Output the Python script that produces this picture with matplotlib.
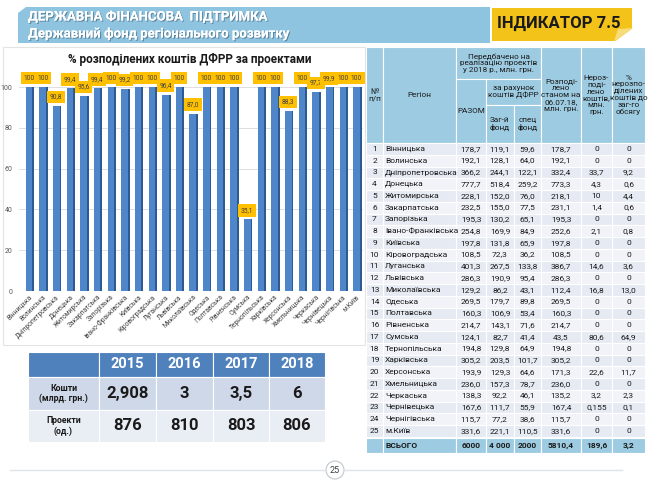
import matplotlib
matplotlib.use('Agg')
import matplotlib.pyplot as plt
import matplotlib.patheffects as pe
from matplotlib.patches import Rectangle, Polygon, Circle

plt.rcParams['font.family'] = ['Roboto', 'DejaVu Sans']

# data
regions = ['Вінницька', 'Волинська', 'Дніпропетровська', 'Донецька', 'Житомирська',
           'Закарпатська', 'Запорізька', 'Івано-Франківська', 'Київська', 'Кіровоградська',
           'Луганська', 'Львівська', 'Миколаївська', 'Одеська', 'Полтавська',
           'Рівненська', 'Сумська', 'Тернопільська', 'Харківська', 'Херсонська',
           'Хмельницька', 'Черкаська', 'Чернівецька', 'Чернігівська', 'м.Київ']
pct = [100, 100, 90.8, 99.4, 95.6, 99.4, 100, 99.2, 100, 100, 96.4, 100, 87.0,
       100, 100, 100, 35.1, 100, 100, 88.3, 100, 97.7, 99.9, 100, 100]

razom = ['178,7', '192,1', '366,2', '777,7', '228,1', '232,5', '195,3', '254,8', '197,8',
         '108,5', '401,3', '286,3', '129,2', '269,5', '160,3', '214,7', '124,1', '194,8',
         '305,2', '193,9', '236,0', '138,3', '167,6', '115,7', '331,6']
zag = ['119,1', '128,1', '244,1', '518,4', '152,0', '155,0', '130,2', '169,9', '131,8',
       '72,3', '267,5', '190,9', '86,2', '179,7', '106,9', '143,1', '82,7', '129,8',
       '203,5', '129,3', '157,3', '92,2', '111,7', '77,2', '221,1']
spec = ['59,6', '64,0', '122,1', '259,2', '76,0', '77,5', '65,1', '84,9', '65,9',
        '36,2', '133,8', '95,4', '43,1', '89,8', '53,4', '71,6', '41,4', '64,9',
        '101,7', '64,6', '78,7', '46,1', '55,9', '38,6', '110,5']
rozp = ['178,7', '192,1', '332,4', '773,3', '218,1', '231,1', '195,3', '252,6', '197,8',
        '108,5', '386,7', '286,3', '112,4', '269,5', '160,3', '214,7', '43,5', '194,8',
        '305,2', '171,3', '236,0', '135,2', '167,4', '115,7', '331,6']
nerozp = ['0', '0', '33,7', '4,3', '10', '1,4', '0', '2,1', '0', '0', '14,6', '0', '16,8',
          '0', '0', '0', '80,6', '0', '0', '22,6', '0', '3,2', '0,155', '0', '0']
nerozp_pct = ['0', '0', '9,2', '0,6', '4,4', '0,6', '0', '0,8', '0', '0', '3,6', '0', '13,0',
              '0', '0', '0', '64,9', '0', '0', '11,7', '0', '2,3', '0,1', '0', '0']
total_row = ['', 'ВСЬОГО', '6000', '4 000', '2000', '5810,4', '189,6', '3,2']

years = ['2015', '2016', '2017', '2018']
koshty = ['2,908', '3', '3,5', '6']
proekty = ['876', '810', '803', '806']

fig = plt.figure(figsize=(6.5, 4.88), dpi=100)
bg = fig.add_axes([0, 0, 1, 1])
bg.set_xlim(0, 650)
bg.set_ylim(488, 0)
bg.axis('off')


def cell(x0, x1, y0, y1, fc, txt='', ha='center', **kw):
    bg.add_patch(Rectangle((x0, y0), x1 - x0, y1 - y0, facecolor=fc, edgecolor='white', lw=0.8))
    if txt:
        tx = (x0 + x1) / 2 if ha == 'center' else x0 + 2
        bg.text(tx, (y0 + y1) / 2, txt, ha=ha, va='center', **kw)


# header band
bg.add_patch(Rectangle((18, 7), 472, 36, facecolor='#8FC4E0', edgecolor='none'))
bg.add_patch(Polygon([(18, 7), (26, 7), (18, 13)], facecolor='white', edgecolor='none'))
shadow = [pe.withSimplePatchShadow(offset=(0.8, -0.8), shadow_rgbFace='#3A5A70', alpha=0.6), pe.Normal()]
bg.text(28, 17, 'ДЕРЖАВНА ФІНАНСОВА  ПІДТРИМКА', color='white', fontsize=9.5, fontweight='bold',
        va='center', path_effects=shadow)
bg.text(28, 34, 'Державний фонд регіонального розвитку', color='white', fontsize=9.5,
        fontweight='bold', va='center', path_effects=shadow)

# indicator box
bg.add_patch(Rectangle((492, 8), 140, 33, facecolor='#F3C31A', edgecolor='none'))
bg.add_patch(Polygon([(614, 41.5), (633, 41.5), (633, 28)], facecolor='white', edgecolor='none'))
bg.add_patch(Polygon([(614, 41.5), (618, 29), (633, 28)], facecolor='#F8DC7A', edgecolor='none'))
bg.text(559, 23, 'ІНДИКАТОР 7.5', fontsize=12, fontweight='bold', ha='center', va='center',
        color='#1A1A1A')

# chart panel
bg.add_patch(Rectangle((3, 47), 362, 298, facecolor='none', edgecolor='#E3E3E3', lw=0.8))
bg.text(190, 60, '% розподілених коштів ДФРР за проектами', fontsize=8.5, fontweight='bold',
        ha='center', va='center', color='#1A1A1A')

ax = fig.add_axes([19.4 / 650, (488 - 291) / 488, 344 / 650, 214 / 488])
ax.patch.set_alpha(0)
x = list(range(len(regions)))
ax.bar([i + 0.3 for i in x], pct, width=0.14, color='#2E5A94', zorder=2)
ax.bar(x, pct, width=0.48, color='#4F86C9', zorder=3)
for i, v in zip(x, pct):
    lab = '100' if v == 100 else ('%.1f' % v).replace('.', ',')
    ax.annotate(lab, (i, v), xytext=(0, 4), textcoords='offset points', ha='center', va='bottom',
                fontsize=4.8, color='#404040', zorder=5, annotation_clip=False,
                bbox=dict(boxstyle='square,pad=0.4', fc='#FFC000', ec='none'))
ax.set_xlim(-0.7, 24.5)
ax.set_ylim(0, 105)
ax.set_yticks([0, 20, 40, 60, 80, 100])
ax.set_xticks(x)
ax.set_xticklabels(regions, rotation=45, ha='right', rotation_mode='anchor', fontsize=4.8,
                   color='#404040')
ax.tick_params(axis='both', length=0, labelsize=5, colors='#595959', pad=5)
ax.tick_params(axis='x', labelsize=4.8, colors='#404040', pad=2)
ax.grid(axis='y', color='#D9D9D9', lw=0.6, zorder=0)
for s in ax.spines.values():
    s.set_visible(False)

# main table
cx = [366, 383, 456, 486, 514, 541, 581, 612, 645]
hc = '#9DCCE2'
hkw = dict(fontsize=5.9, color='#1A1A1A', linespacing=1.15)
cell(cx[0], cx[1], 47, 143, hc, '№\nп/п', **hkw)
cell(cx[1], cx[2], 47, 143, hc, 'Регіон', **hkw)
cell(cx[2], cx[5], 47, 79, hc, 'Передбачено на\nреалізацію проектів\nу 2018 р., млн. грн.', **hkw)
cell(cx[2], cx[3], 79, 143, hc, 'РАЗОМ', **hkw)
cell(cx[3], cx[5], 79, 105, hc, 'за рахунок\nкоштів ДФРР', **hkw)
cell(cx[3], cx[4], 105, 143, hc, 'Заг-й\nфонд', **hkw)
cell(cx[4], cx[5], 105, 143, hc, 'спец\nфонд', **hkw)
cell(cx[5], cx[6], 47, 143, hc, 'Розподі-\nлено\nстаном на\n06.07.18,\nмлн. грн.', **hkw)
cell(cx[6], cx[7], 47, 143, hc, 'Нероз-\nподі-\nлено\nкоштів,\nмлн.\nгрн.', **hkw)
cell(cx[7], cx[8], 47, 143, hc, '%\nнерозпо-\nділених\nкоштів до\nзаг-го\nобсягу', **hkw)

rh = 11.75
bkw = dict(fontsize=6, color='#1A1A1A')
for r in range(len(regions)):
    y0 = 143 + r * rh
    fc = '#E6EAF2' if r % 2 == 0 else '#F1F3F8'
    vals = [str(r + 1), regions[r], razom[r], zag[r], spec[r], rozp[r], nerozp[r], nerozp_pct[r]]
    for c, v in enumerate(vals):
        cell(cx[c], cx[c + 1], y0, y0 + rh, fc, v, ha='left' if c == 1 else 'center', **bkw)
y0 = 143 + len(regions) * rh + 1
for c, v in enumerate(total_row):
    cell(cx[c], cx[c + 1], y0, y0 + 15, hc, v, ha='left' if c == 1 else 'center',
         fontsize=6, fontweight='bold', color='#1A1A1A')

# bottom table
bx = [28, 99, 156, 213, 269, 325]
by = [352, 377, 410, 442]
cell(bx[0], bx[1], by[0], by[1], '#4F81BD')
for j, yv in enumerate(years):
    cell(bx[j + 1], bx[j + 2], by[0], by[1], '#4F81BD', yv, fontsize=10.5, fontweight='bold',
         color='white')
cell(bx[0], bx[1], by[1], by[2], '#CFD8E8', 'Кошти\n(млрд. грн.)', fontsize=6.3,
     fontweight='bold', color='#1A1A1A')
cell(bx[0], bx[1], by[2], by[3], '#E9EDF4', 'Проекти\n(од.)', fontsize=6.3,
     fontweight='bold', color='#1A1A1A')
for j in range(4):
    cell(bx[j + 1], bx[j + 2], by[1], by[2], '#CFD8E8', koshty[j], fontsize=12,
         fontweight='bold', color='#1A1A1A')
    cell(bx[j + 1], bx[j + 2], by[2], by[3], '#E9EDF4', proekty[j], fontsize=12,
         fontweight='bold', color='#1A1A1A')

# footer line and page number
bg.plot([10, 326], [470, 470], color='#DDE3EA', lw=1)
bg.plot([344, 622], [470, 470], color='#DDE3EA', lw=1)
bg.add_patch(Circle((335, 470), 9, facecolor='white', edgecolor='#BFC8D0', lw=0.8))
bg.text(335, 470.5, '25', fontsize=6.5, ha='center', va='center', color='#404040')

fig.savefig('out.png', dpi=100)
